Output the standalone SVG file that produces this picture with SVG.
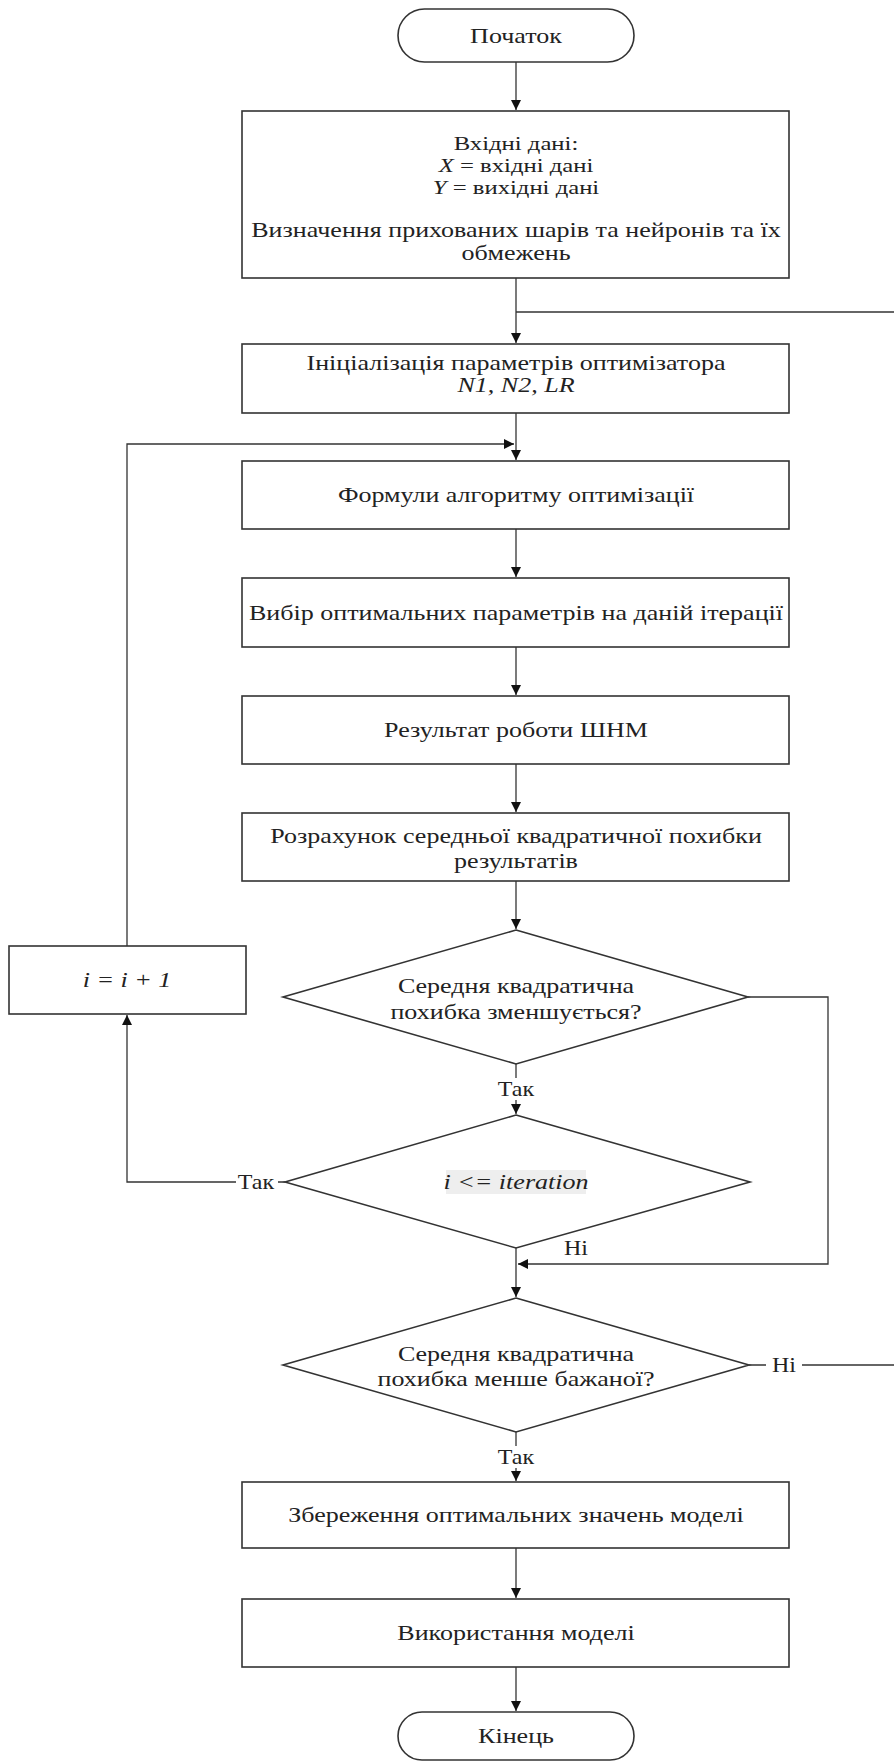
<svg xmlns="http://www.w3.org/2000/svg" width="894" height="1762" viewBox="0 0 894 1762">
<defs>
<style>
.box{fill:#fff;stroke:#333;stroke-width:1.6}
.ln{fill:none;stroke:#333;stroke-width:1.3}
.t{font-family:"Liberation Serif","Times New Roman",serif;font-size:21px;fill:#222;text-anchor:middle}
.s{font-size:19px}
.i{font-style:italic}
.lbl{font-family:"Liberation Serif","Times New Roman",serif;font-size:20px;fill:#222;text-anchor:middle}
</style>
<marker id="ah" viewBox="0 0 10 10" refX="10" refY="5" markerWidth="10" markerHeight="10" markerUnits="userSpaceOnUse" orient="auto">
<path d="M0,0 L10,5 L0,10 z" fill="#111"/>
</marker>
</defs>
<rect width="894" height="1762" fill="#fff"/>

<g id="connectors">
<line class="ln" x1="516" y1="62" x2="516" y2="110" marker-end="url(#ah)"/>
<line class="ln" x1="516" y1="278" x2="516" y2="343" marker-end="url(#ah)"/>
<line class="ln" x1="894" y1="312" x2="516" y2="312"/>
<line class="ln" x1="516" y1="413" x2="516" y2="460" marker-end="url(#ah)"/>
<polyline class="ln" points="127,946 127,444 514,444" marker-end="url(#ah)"/>
<line class="ln" x1="516" y1="529" x2="516" y2="577" marker-end="url(#ah)"/>
<line class="ln" x1="516" y1="647" x2="516" y2="695" marker-end="url(#ah)"/>
<line class="ln" x1="516" y1="764" x2="516" y2="812" marker-end="url(#ah)"/>
<line class="ln" x1="516" y1="881" x2="516" y2="929" marker-end="url(#ah)"/>
<line class="ln" x1="516" y1="1064" x2="516" y2="1114" marker-end="url(#ah)"/>
<polyline class="ln" points="285,1182 127,1182 127,1015" marker-end="url(#ah)"/>
<line class="ln" x1="516" y1="1248" x2="516" y2="1297" marker-end="url(#ah)"/>
<polyline class="ln" points="748,997 828,997 828,1264 518,1264" marker-end="url(#ah)"/>
<line class="ln" x1="749" y1="1365" x2="894" y2="1365"/>
<line class="ln" x1="516" y1="1432" x2="516" y2="1481" marker-end="url(#ah)"/>
<line class="ln" x1="516" y1="1548" x2="516" y2="1598" marker-end="url(#ah)"/>
<line class="ln" x1="516" y1="1667" x2="516" y2="1711" marker-end="url(#ah)"/>
<rect x="494" y="1078" width="44" height="22" fill="#fff"/>
<text class="lbl" transform="translate(516 1096) scale(1.2 1)">Так</text>
<rect x="236" y="1171" width="42" height="22" fill="#fff"/>
<text class="lbl" transform="translate(256 1189) scale(1.2 1)">Так</text>
<text class="lbl" transform="translate(576 1255) scale(1.2 1)">Ні</text>
<rect x="766" y="1355" width="36" height="22" fill="#fff"/>
<text class="lbl" transform="translate(784 1372) scale(1.2 1)">Ні</text>
<rect x="494" y="1446" width="44" height="22" fill="#fff"/>
<text class="lbl" transform="translate(516 1464) scale(1.2 1)">Так</text>
</g>

<g id="start">
<rect class="box" x="398" y="9" width="236" height="53" rx="26.5"/>
<text class="t" transform="translate(516 43) scale(1.24 1)">Початок</text>
</g>

<g id="input">
<rect class="box" x="242" y="111" width="547" height="167"/>
<text class="t s" transform="translate(516 150) scale(1.3 1)">Вхідні дані:</text>
<text class="t s" transform="translate(516 172) scale(1.3 1)"><tspan class="i">X</tspan> = вхідні дані</text>
<text class="t s" transform="translate(516 194) scale(1.3 1)"><tspan class="i">Y</tspan> = вихідні дані</text>
<text class="t" transform="translate(516 237) scale(1.24 1)">Визначення прихованих шарів та нейронів та їх</text>
<text class="t" transform="translate(516 260) scale(1.24 1)">обмежень</text>
</g>

<g id="init">
<rect class="box" x="242" y="344" width="547" height="69"/>
<text class="t" transform="translate(516 370) scale(1.24 1)">Ініціалізація параметрів оптимізатора</text>
<text class="t i" transform="translate(516 392) scale(1.24 1)">N1, N2, LR</text>
</g>

<g id="formulas">
<rect class="box" x="242" y="461" width="547" height="68"/>
<text class="t" transform="translate(516 502) scale(1.24 1)">Формули алгоритму оптимізації</text>
</g>

<g id="select">
<rect class="box" x="242" y="578" width="547" height="69"/>
<text class="t" transform="translate(516 620) scale(1.24 1)">Вибір оптимальних параметрів на даній ітерації</text>
</g>

<g id="result">
<rect class="box" x="242" y="696" width="547" height="68"/>
<text class="t" transform="translate(516 737) scale(1.24 1)">Результат роботи ШНМ</text>
</g>

<g id="mse">
<rect class="box" x="242" y="813" width="547" height="68"/>
<text class="t" transform="translate(516 843) scale(1.24 1)">Розрахунок середньої квадратичної похибки</text>
<text class="t" transform="translate(516 868) scale(1.24 1)">результатів</text>
</g>

<g id="dec1">
<polygon class="box" points="516,930 748,997 516,1064 283,997"/>
<text class="t" transform="translate(516 993) scale(1.24 1)">Середня квадратична</text>
<text class="t" transform="translate(516 1019) scale(1.24 1)">похибка зменшується?</text>
</g>

<g id="incr">
<rect class="box" x="9" y="946" width="237" height="68"/>
<text class="t i" transform="translate(127 987) scale(1.24 1)">i = i + 1</text>
</g>

<g id="dec2">
<polygon class="box" points="516,1115 750,1182 516,1248 285,1182"/>
<rect x="446" y="1170" width="140" height="24" fill="#eeeeee"/>
<text class="t i" transform="translate(516 1189) scale(1.24 1)">i &lt;= iteration</text>
</g>

<g id="dec3">
<polygon class="box" points="516,1298 749,1365 516,1432 283,1365"/>
<text class="t" transform="translate(516 1361) scale(1.24 1)">Середня квадратична</text>
<text class="t" transform="translate(516 1386) scale(1.24 1)">похибка менше бажаної?</text>
</g>

<g id="save">
<rect class="box" x="242" y="1482" width="547" height="66"/>
<text class="t" transform="translate(516 1522) scale(1.24 1)">Збереження оптимальних значень моделі</text>
</g>

<g id="use">
<rect class="box" x="242" y="1599" width="547" height="68"/>
<text class="t" transform="translate(516 1640) scale(1.24 1)">Використання моделі</text>
</g>

<g id="end">
<rect class="box" x="398" y="1712" width="236" height="48" rx="24"/>
<text class="t" transform="translate(516 1743) scale(1.24 1)">Кінець</text>
</g>
</svg>
